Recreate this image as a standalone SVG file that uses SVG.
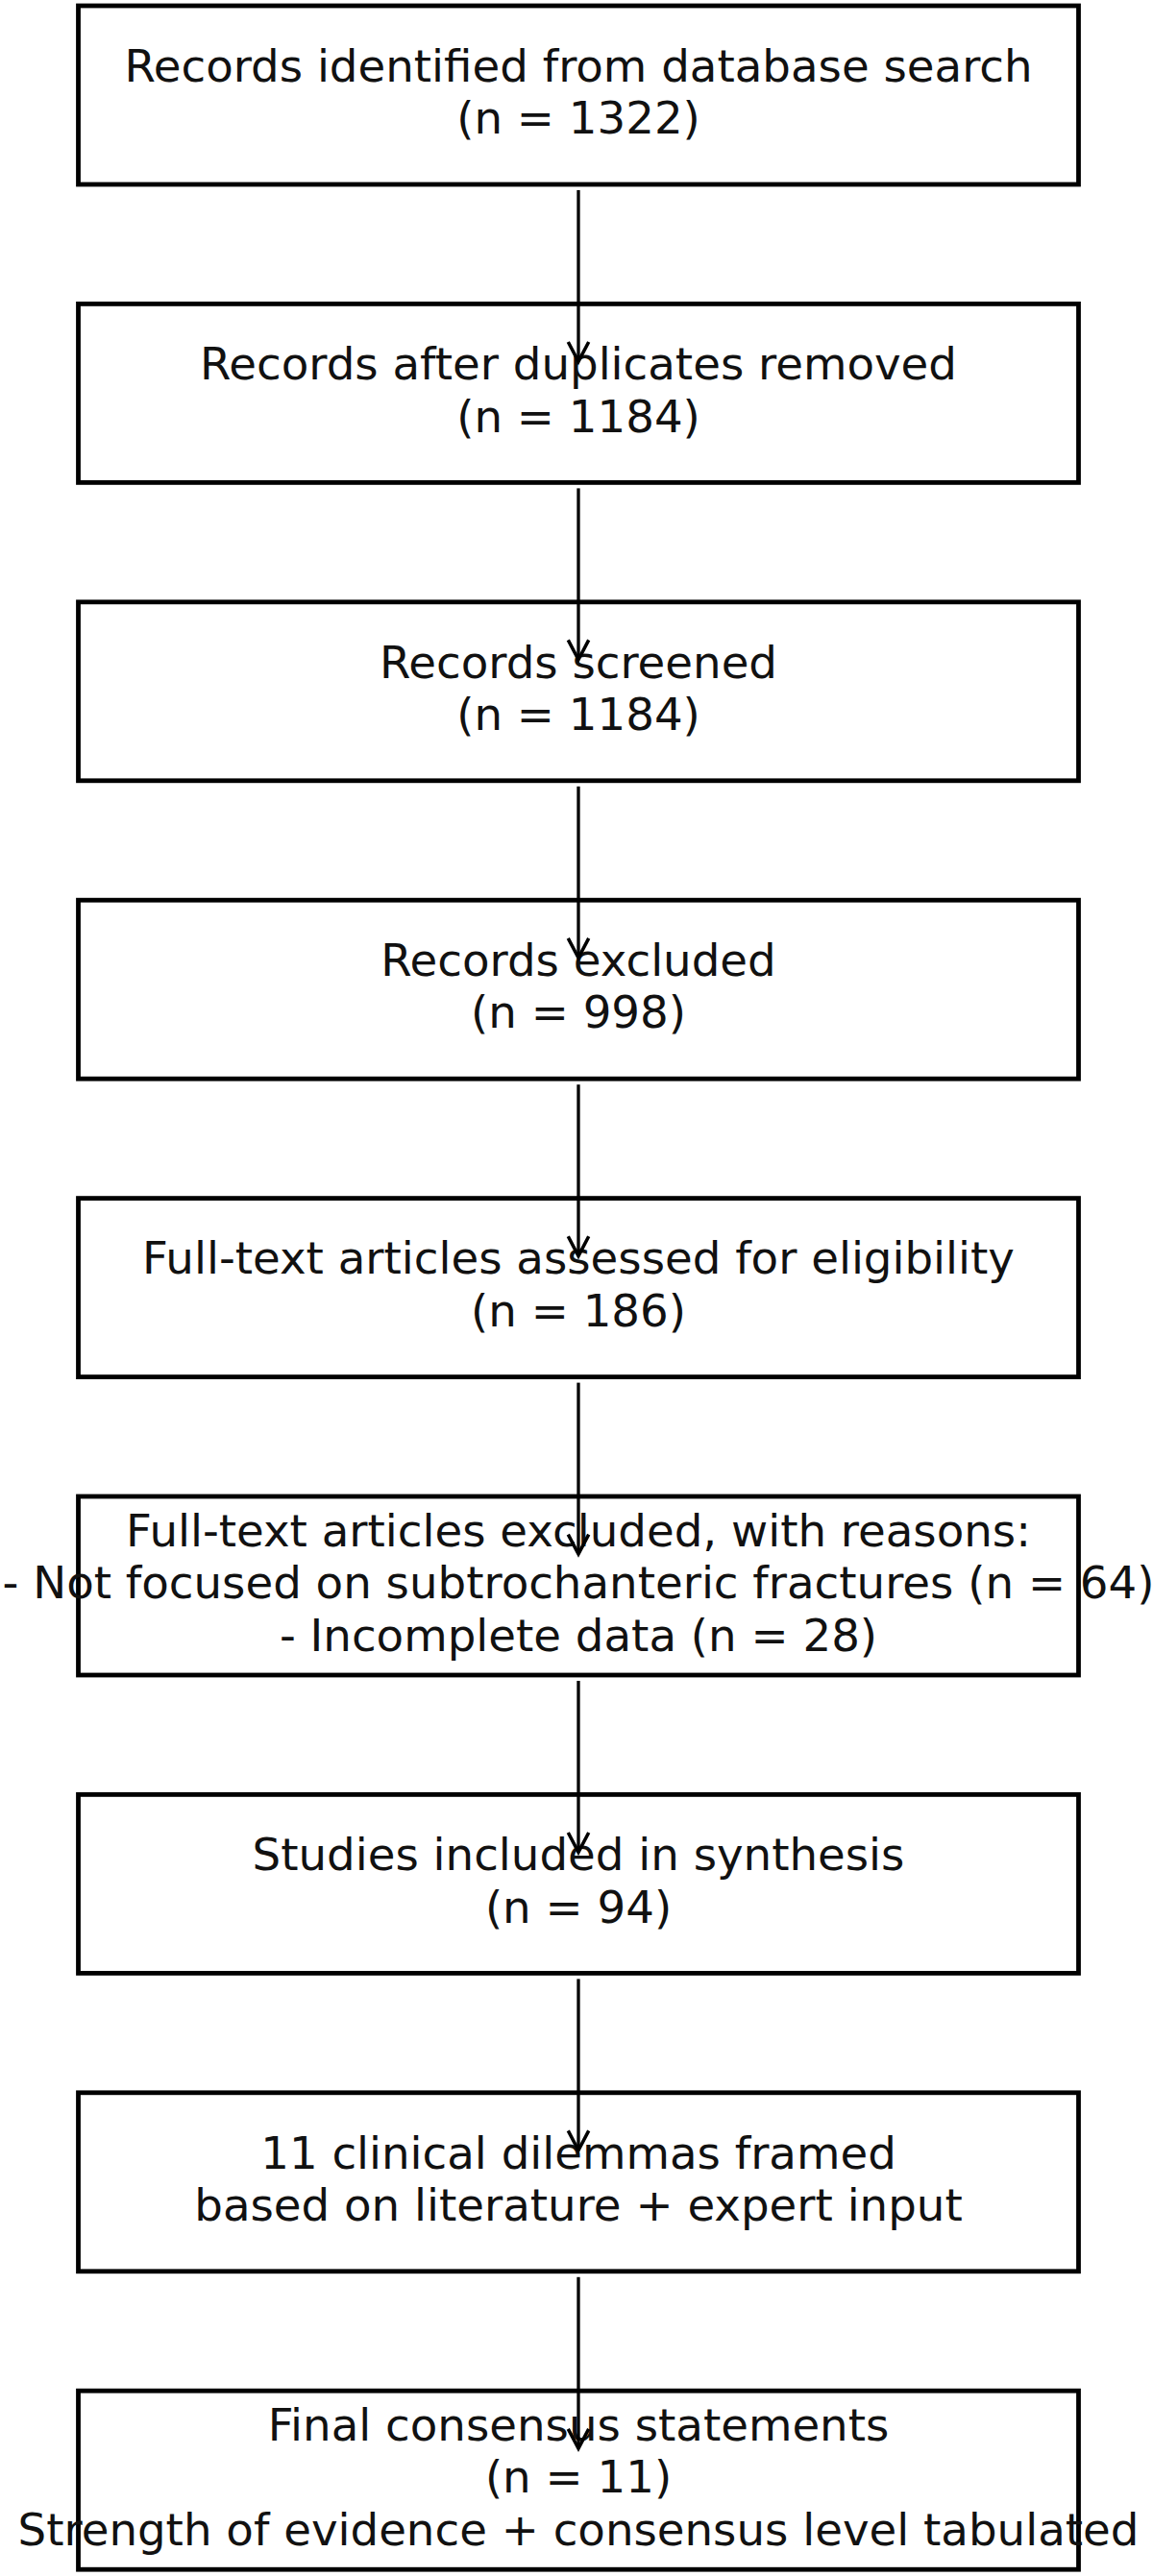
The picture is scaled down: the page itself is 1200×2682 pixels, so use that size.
<svg xmlns="http://www.w3.org/2000/svg" width="1200" height="2682" viewBox="0 0 1200 2682">
<defs>
<style>
.box{fill:#ffffff;stroke:#000000;stroke-width:4.8}
.t{font-family:"DejaVu Sans",Verdana,sans-serif;font-size:46.7px;fill:#111111;text-anchor:middle}
.c{stroke:#000000;stroke-width:3.3;fill:none}
</style>
<marker id="ah" markerUnits="userSpaceOnUse" markerWidth="30" markerHeight="30" refX="0" refY="0" viewBox="-22 -14 26 28" orient="auto" overflow="visible">
<path d="M -19 -10 L 0 0 L -19 10" fill="none" stroke="#000000" stroke-width="3.3"/>
</marker>
</defs>
<rect width="1200" height="2682" fill="#ffffff"/>
<g id="node1"><rect class="box" x="81.5" y="6" width="1041" height="186"/>
<text class="t" x="602" y="84.75">Records identified from database search</text>
<text class="t" x="602" y="139.25">(n = 1322)</text></g>
<g id="node2"><rect class="box" x="81.5" y="316.4" width="1041" height="186"/>
<text class="t" x="602" y="395.15">Records after duplicates removed</text>
<text class="t" x="602" y="449.65">(n = 1184)</text></g>
<g id="node3"><rect class="box" x="81.5" y="626.8" width="1041" height="186"/>
<text class="t" x="602" y="705.55">Records screened</text>
<text class="t" x="602" y="760.05">(n = 1184)</text></g>
<g id="node4"><rect class="box" x="81.5" y="937.2" width="1041" height="186"/>
<text class="t" x="602" y="1015.95">Records excluded</text>
<text class="t" x="602" y="1070.45">(n = 998)</text></g>
<g id="node5"><rect class="box" x="81.5" y="1247.6" width="1041" height="186"/>
<text class="t" x="602" y="1326.35">Full-text articles assessed for eligibility</text>
<text class="t" x="602" y="1380.85">(n = 186)</text></g>
<g id="node6"><rect class="box" x="81.5" y="1558" width="1041" height="186"/>
<text class="t" x="602" y="1609.5">Full-text articles excluded, with reasons:</text>
<text class="t" x="602" y="1664">- Not focused on subtrochanteric fractures (n = 64)</text>
<text class="t" x="602" y="1718.5">- Incomplete data (n = 28)</text></g>
<g id="node7"><rect class="box" x="81.5" y="1868.4" width="1041" height="186"/>
<text class="t" x="602" y="1947.15">Studies included in synthesis</text>
<text class="t" x="602" y="2001.65">(n = 94)</text></g>
<g id="node8"><rect class="box" x="81.5" y="2178.8" width="1041" height="186"/>
<text class="t" x="602" y="2257.55">11 clinical dilemmas framed</text>
<text class="t" x="602" y="2312.05">based on literature + expert input</text></g>
<g id="node9"><rect class="box" x="81.5" y="2489.2" width="1041" height="186"/>
<text class="t" x="602" y="2540.7">Final consensus statements</text>
<text class="t" x="602" y="2595.2">(n = 11)</text>
<text class="t" x="602" y="2649.7">Strength of evidence + consensus level tabulated</text></g>
<g id="connectors">
<line class="c" x1="602" y1="198" x2="602" y2="376.4" marker-end="url(#ah)"/>
<line class="c" x1="602" y1="508.4" x2="602" y2="686.8" marker-end="url(#ah)"/>
<line class="c" x1="602" y1="818.8" x2="602" y2="997.2" marker-end="url(#ah)"/>
<line class="c" x1="602" y1="1129.2" x2="602" y2="1307.6" marker-end="url(#ah)"/>
<line class="c" x1="602" y1="1439.6" x2="602" y2="1618" marker-end="url(#ah)"/>
<line class="c" x1="602" y1="1750" x2="602" y2="1928.4" marker-end="url(#ah)"/>
<line class="c" x1="602" y1="2060.4" x2="602" y2="2238.8" marker-end="url(#ah)"/>
<line class="c" x1="602" y1="2370.8" x2="602" y2="2549.2" marker-end="url(#ah)"/>
</g>
</svg>
